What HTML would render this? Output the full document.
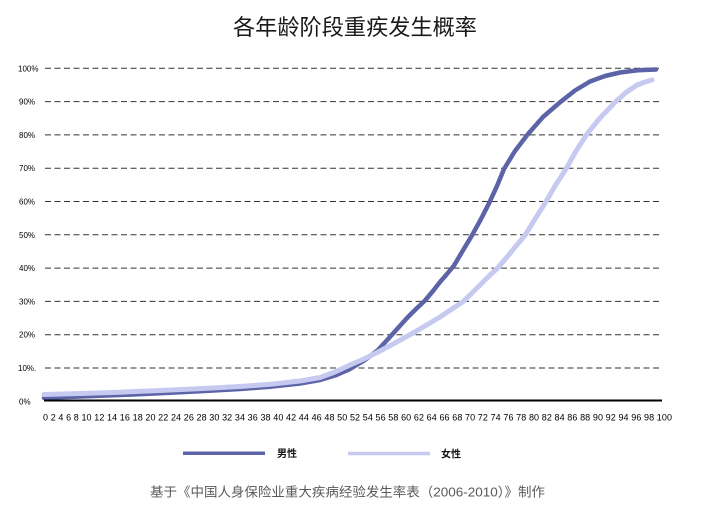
<!DOCTYPE html>
<html>
<head>
<meta charset="utf-8">
<style>
  html, body { margin:0; padding:0; background:#ffffff; }
  body { width:701px; height:520px; overflow:hidden; }
  svg { display:block; }
  .ylab { font-family:"Liberation Sans", Arial, sans-serif; font-size:8px; fill:#000; }
  .xlab { font-family:"Liberation Sans", Arial, sans-serif; font-size:9px; fill:#000; }
  .cjk { font-family:"Liberation Sans", "Noto Sans CJK SC", "WenQuanYi Zen Hei", sans-serif; }
</style>
</head>
<body>
<svg width="701" height="520" viewBox="0 0 701 520" xmlns="http://www.w3.org/2000/svg">
  <rect x="0" y="0" width="701" height="520" fill="#ffffff"/>

  <!-- Title -->
  <text class="cjk" x="355" y="35" text-anchor="middle" font-size="22" fill="#1a1a1a" textLength="244" lengthAdjust="spacingAndGlyphs">各年龄阶段重疾发生概率</text>

  <!-- Gridlines -->
  <g stroke="#333" stroke-width="1" stroke-dasharray="6,3.5" fill="none">
    <line x1="45" y1="68.3" x2="660" y2="68.3"/>
    <line x1="45" y1="101.6" x2="660" y2="101.6"/>
    <line x1="45" y1="134.9" x2="660" y2="134.9"/>
    <line x1="45" y1="168.2" x2="660" y2="168.2"/>
    <line x1="45" y1="201.5" x2="660" y2="201.5"/>
    <line x1="45" y1="234.8" x2="660" y2="234.8"/>
    <line x1="45" y1="268.1" x2="660" y2="268.1"/>
    <line x1="45" y1="301.4" x2="660" y2="301.4"/>
    <line x1="45" y1="334.7" x2="660" y2="334.7"/>
    <line x1="45" y1="368.0" x2="660" y2="368.0"/>
  </g>

  <!-- Y labels -->
  <g class="ylab">
    <text x="18" y="71.3">100%</text>
    <text x="19" y="104.6">90%</text>
    <text x="19" y="137.9">80%</text>
    <text x="19" y="171.2">70%</text>
    <text x="19" y="204.5">60%</text>
    <text x="19" y="237.8">50%</text>
    <text x="19" y="271.1">40%</text>
    <text x="19" y="304.4">30%</text>
    <text x="19" y="337.7">20%</text>
    <text x="18" y="371.0">10%.</text>
    <text x="19" y="404.5">0%</text>
  </g>

  <!-- Male series -->
  <polyline fill="none" stroke="#5c64a7" stroke-width="4.5" stroke-linejoin="round" stroke-linecap="round"
    points="44,397.8 80,396.5 120,395 160,393.3 200,391.3 240,389 270,386.8 300,383.5 320,380 335,375.5 350,369 365,360 378,350 389,338 398,328 407,318 416,309 425,300.5 433,291 440,282 447,274 454,265.5 462,252 472,235.3 481,219 489,203.3 497,186 504,169 515,151 528,134 543,117 560,102.3 575,90.5 590,81.5 605,76 620,72.5 638,70.3 656,69.5"/>

  <!-- Female series -->
  <polyline fill="none" stroke="#c6caf0" stroke-width="5" stroke-linejoin="round" stroke-linecap="round"
    points="44,394.5 80,393.5 120,392.2 160,390.5 200,388.6 240,386.5 270,384.3 300,381 320,377.5 335,372 350,365 365,358.5 380,351 395,343 410,334.7 425,326 440,317 452,309 463,301.7 472,293 480,285 488,277 497,268.7 507,257 516,246 525,235.3 535,219 545,203.3 555,186 566,169 576,151 587,134 600,118 615,102.3 626,92.5 637,85 645,82 652,80"/>

  <!-- X axis -->
  <line x1="44" y1="400.5" x2="662" y2="400.5" stroke="#000" stroke-width="2"/>

  <!-- X labels -->
  <text class="xlab" x="43" y="420.5" textLength="629" lengthAdjust="spacing">0 2 4 6 8 10 12 14 16 18 20 22 24 26 28 30 32 34 36 38 40 42 44 46 48 50 52 54 56 58 60 62 64 66 68 70 72 74 76 78 80 82 84 86 88 90 92 94 96 98 100</text>

  <!-- Legend -->
  <line x1="183" y1="453.3" x2="265" y2="453.3" stroke="#5c64a7" stroke-width="3.5"/>
  <text class="cjk" x="277" y="457" font-size="10" font-weight="bold" fill="#111">男性</text>
  <line x1="348" y1="453.5" x2="430" y2="453.5" stroke="#c6caf0" stroke-width="3.5"/>
  <text class="cjk" x="441" y="457.5" font-size="10" font-weight="bold" fill="#111">女性</text>

  <!-- Caption -->
  <text class="cjk" x="150" y="496.5" font-size="13" fill="#5a5a5a" textLength="395" lengthAdjust="spacingAndGlyphs">基于《中国人身保险业重大疾病经验发生率表（2006-2010）》制作</text>
</svg>
</body>
</html>
